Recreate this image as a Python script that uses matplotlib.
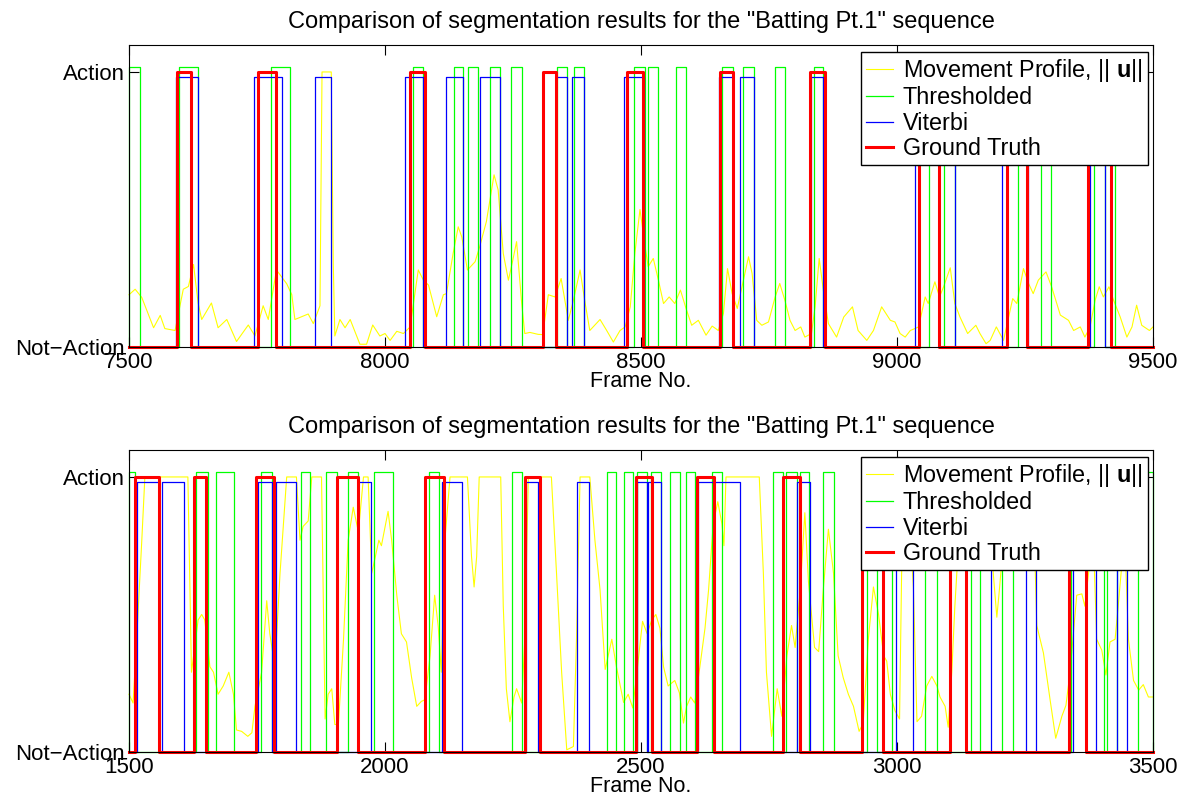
import matplotlib
matplotlib.use("Agg")
import matplotlib.pyplot as plt

plt.rcParams['font.family'] = ['Liberation Sans', 'DejaVu Sans']
plt.rcParams['mathtext.fontset'] = 'custom'
plt.rcParams['mathtext.rm'] = 'Liberation Sans'
plt.rcParams['mathtext.bf'] = 'Liberation Sans:bold'

TITLE = 'Comparison of segmentation results for the "Batting Pt.1" sequence'
XLABEL = 'Frame No.'
YTICK_LABELS = ['Not\u2212Action', 'Action']
LEGEND_LABELS = [r'Movement Profile, || $\mathbf{u}$||', 'Thresholded', 'Viterbi', 'Ground Truth']

# ---------------- Top panel (frames 7500-9500) ----------------
top_xlim = (7500, 9500)
top_xticks = [7500, 8000, 8500, 9000, 9500]

top_yellow_f = [7500, 7512, 7525, 7548, 7561, 7570, 7590, 7606, 7616, 7626, 7635, 7642, 7661, 7674,
                7691, 7710, 7733, 7746, 7762, 7772, 7788, 7808, 7818, 7824, 7850, 7860, 7873, 7877,
                7895, 7899, 7902, 7912, 7922, 7932, 7951, 7964, 7976, 7990, 8000, 8010, 8023, 8036,
                8049, 8065, 8075, 8085, 8101, 8114, 8120, 8133, 8143, 8150, 8161, 8176, 8185, 8198,
                8213, 8221, 8231, 8241, 8249, 8257, 8267, 8273, 8283, 8299, 8308, 8319, 8332, 8344,
                8358, 8368, 8381, 8390, 8400, 8420, 8433, 8446, 8459, 8469, 8479, 8488, 8498, 8508,
                8514, 8524, 8534, 8544, 8555, 8566, 8577, 8589, 8599, 8612, 8627, 8639, 8651, 8661,
                8669, 8678, 8688, 8700, 8710, 8717, 8726, 8736, 8749, 8762, 8771, 8781, 8791, 8801,
                8812, 8820, 8833, 8840, 8848, 8857, 8866, 8882, 8896, 8913, 8924, 8941, 8954, 8970,
                8987, 8996, 9006, 9016, 9026, 9035, 9042, 9048, 9055, 9061, 9074, 9083, 9091, 9104,
                9113, 9123, 9138, 9154, 9162, 9174, 9182, 9194, 9208, 9218, 9226, 9234, 9247, 9257,
                9266, 9276, 9291, 9302, 9319, 9335, 9345, 9358, 9367, 9377, 9387, 9395, 9403, 9414,
                9423, 9436, 9449, 9459, 9468, 9478, 9493, 9500]
top_yellow_v = [0.19, 0.21, 0.18, 0.07, 0.115, 0.067, 0.06, 0.21, 0.22, 0.30, 0.16, 0.10, 0.16, 0.07,
                0.10, 0.02, 0.08, 0.04, 0.15, 0.10, 0.28, 0.23, 0.19, 0.10, 0.12, 0.085, 0.15, 1.0,
                1.0, 0.30, 0.04, 0.10, 0.07, 0.10, 0.01, 0.01, 0.08, 0.04, 0.049, 0.024, 0.057, 0.049,
                0.073, 0.28, 0.243, 0.225, 0.11, 0.19, 0.194, 0.34, 0.437, 0.40, 0.28, 0.31, 0.365, 0.456,
                0.626, 0.571, 0.34, 0.243, 0.31, 0.383, 0.158, 0.049, 0.053, 0.046, 0.045, 0.19, 0.182, 0.249,
                0.097, 0.17, 0.28, 0.17, 0.06, 0.10, 0.06, 0.018, 0.06, 0.073, 0.146, 0.34, 0.50, 0.365,
                0.292, 0.322, 0.243, 0.158, 0.182, 0.158, 0.207, 0.134, 0.079, 0.097, 0.043, 0.076, 0.06, 0.122,
                0.285, 0.194, 0.140, 0.243, 0.328, 0.267, 0.097, 0.079, 0.091, 0.182, 0.231, 0.170, 0.097, 0.06,
                0.073, 0.036, 0.049, 0.146, 0.322, 0.194, 0.085, 0.036, 0.109, 0.146, 0.06, 0.024, 0.06, 0.146,
                0.097, 0.091, 0.049, 0.036, 0.06, 0.067, 0.073, 0.122, 0.182, 0.158, 0.237, 0.182, 0.219, 0.288,
                0.158, 0.109, 0.049, 0.079, 0.049, 0.012, 0.024, 0.073, 0.024, 0.109, 0.176, 0.158, 0.285, 0.231,
                0.194, 0.243, 0.273, 0.219, 0.116, 0.097, 0.06, 0.073, 0.036, 0.073, 0.170, 0.219, 0.182, 0.219,
                0.170, 0.109, 0.036, 0.073, 0.152, 0.079, 0.06, 0.073]

top_green = [(7500, 7521), (7598, 7634), (7778, 7814), (8054, 8074), (8134, 8153), (8162, 8181),
             (8205, 8224), (8247, 8267), (8335, 8355), (8370, 8389), (8487, 8507), (8514, 8534),
             (8568, 8587), (8659, 8679), (8700, 8720), (8762, 8781), (8837, 8856), (9062, 9083),
             (9092, 9113), (9237, 9253), (9281, 9301), (9385, 9406), (9417, 9426)]
top_blue = [(7592, 7635), (7744, 7798), (7863, 7895), (8040, 8074), (8119, 8153), (8186, 8224),
            (8334, 8355), (8365, 8389), (8467, 8506), (8652, 8680), (8693, 8720), (8832, 8856),
            (9036, 9113), (9206, 9256), (9377, 9406)]
top_red = [(7594, 7621), (7751, 7788), (8049, 8078), (8309, 8334), (8473, 8503), (8654, 8680),
           (8830, 8859), (9042, 9083), (9215, 9253), (9374, 9417)]

# ---------------- Bottom panel (frames 1500-3500) ----------------
bot_xlim = (1500, 3500)
bot_xticks = [1500, 2000, 2500, 3000, 3500]

bot_yellow_f = [1500, 1508, 1515, 1525, 1531, 1615, 1622, 1635, 1642, 1648, 1658, 1665, 1674, 1684,
                1695, 1704, 1710, 1720, 1732, 1740, 1746, 1759, 1769, 1775, 1785, 1795, 1808, 1827,
                1834, 1840, 1850, 1857, 1876, 1883, 1889, 1896, 1902, 1909, 1919, 1928, 1938, 1948,
                1958, 1967, 1974, 1980, 1988, 1993, 2006, 2013, 2023, 2032, 2042, 2052, 2062, 2071,
                2078, 2088, 2097, 2104, 2110, 2117, 2127, 2161, 2169, 2174, 2179, 2184, 2226, 2231,
                2237, 2244, 2252, 2257, 2267, 2273, 2280, 2325, 2335, 2345, 2355, 2368, 2374, 2381,
                2400, 2410, 2420, 2430, 2443, 2452, 2466, 2475, 2484, 2492, 2503, 2512, 2521, 2529,
                2537, 2544, 2553, 2566, 2575, 2583, 2589, 2597, 2605, 2615, 2625, 2632, 2641, 2650,
                2658, 2662, 2666, 2731, 2739, 2745, 2755, 2766, 2775, 2785, 2794, 2801, 2811, 2820,
                2827, 2839, 2847, 2856, 2866, 2876, 2885, 2895, 2905, 2915, 2926, 2934, 2944, 2954,
                2964, 2974, 2980, 2987, 2996, 3005, 3009, 3014, 3022, 3032, 3039, 3048, 3058, 3068,
                3078, 3084, 3094, 3100, 3107, 3113, 3120, 3127, 3180, 3188, 3195, 3200, 3205, 3212,
                3265, 3273, 3286, 3299, 3310, 3322, 3330, 3338, 3351, 3361, 3367, 3377, 3384, 3390,
                3400, 3408, 3416, 3426, 3432, 3440, 3446, 3452, 3462, 3472, 3481, 3491, 3500]
bot_yellow_v = [0.21, 0.178, 0.41, 0.77, 1.0, 1.0, 0.29, 0.48, 0.50, 0.48, 0.31, 0.29, 0.21, 0.24,
                0.29, 0.21, 0.08, 0.075, 0.057, 0.07, 0.166, 0.29, 0.55, 0.43, 0.31, 0.65, 1.0, 1.0,
                0.77, 0.82, 0.84, 1.0, 1.0, 0.12, 0.21, 0.23, 0.10, 0.10, 0.41, 0.77, 0.89, 0.80,
                1.0, 1.0, 0.65, 0.70, 0.77, 0.75, 0.875, 0.77, 0.57, 0.43, 0.40, 0.27, 0.166, 0.184,
                0.19, 0.35, 0.57, 0.455, 0.29, 0.77, 1.0, 1.0, 0.71, 0.60, 0.71, 1.0, 1.0, 0.53,
                0.23, 0.11, 0.20, 0.23, 0.178, 0.41, 1.0, 1.0, 0.65, 0.29, 0.008, 0.02, 0.41, 1.0,
                1.0, 0.77, 0.59, 0.30, 0.41, 0.31, 0.18, 0.21, 0.16, 0.29, 0.475, 0.43, 0.48, 0.50,
                0.45, 0.31, 0.24, 0.26, 0.215, 0.105, 0.166, 0.20, 0.178, 0.31, 0.45, 0.59, 0.83, 0.91,
                0.83, 0.75, 1.0, 1.0, 0.65, 0.29, 0.057, 0.23, 0.13, 0.35, 0.46, 0.38, 0.59, 0.87,
                0.62, 0.38, 0.365, 0.59, 0.81, 0.65, 0.35, 0.27, 0.21, 0.166, 0.075, 0.105, 0.41, 0.60,
                0.50, 0.35, 0.33, 0.21, 0.15, 0.12, 0.65, 0.90, 0.90, 0.60, 0.11, 0.13, 0.24, 0.275,
                0.24, 0.20, 0.166, 0.09, 0.29, 0.53, 0.75, 1.0, 1.0, 0.65, 0.49, 0.59, 0.70, 1.0,
                1.0, 0.46, 0.36, 0.19, 0.05, 0.13, 0.17, 0.29, 0.57, 0.575, 0.53, 0.70, 0.75, 0.41,
                0.37, 0.28, 0.40, 0.41, 0.53, 0.70, 0.72, 0.41, 0.26, 0.225, 0.245, 0.20, 0.20]

bot_green = [(1500, 1512), (1631, 1655), (1670, 1706), (1758, 1779), (1835, 1854), (1885, 1906),
             (1928, 1948), (1978, 2015), (2086, 2106), (2248, 2267), (2433, 2452), (2466, 2485),
             (2493, 2512), (2520, 2539), (2557, 2577), (2587, 2606), (2639, 2659), (2758, 2777),
             (2784, 2804), (2811, 2829), (2856, 2876), (2941, 2960), (2972, 2991), (3055, 3079),
             (3144, 3162), (3206, 3226), (3340, 3404), (3411, 3429), (3470, 3500)]
bot_blue = [(1516, 1559), (1564, 1607), (1751, 1779), (1788, 1827), (1948, 1972), (2112, 2150),
            (2275, 2299), (2375, 2398), (2493, 2512), (2513, 2539), (2611, 2693), (2805, 2830),
            (2972, 2999), (3031, 3184), (3251, 3271), (3344, 3388), (3429, 3450)]
bot_red = [(1512, 1559), (1627, 1650), (1748, 1783), (1906, 1948), (2078, 2116), (2273, 2303),
           (2490, 2521), (2609, 2643), (2777, 2811), (2932, 2972), (3103, 3135), (3335, 3370)]

GREEN_LEVEL = 1.018
BLUE_LEVEL = 0.982


def steps(pulses, level, x0, x1):
    xs, ys = [x0], [0.0]
    for s, e in pulses:
        xs += [s, s, e, e]
        ys += [0.0, level, level, 0.0]
    xs.append(x1)
    ys.append(0.0)
    return xs, ys


def panel(ax, xlim, xticks, yf, yv, green, blue, red):
    ax.plot(yf, yv, color='#ffff00', lw=0.8, clip_on=False, label=LEGEND_LABELS[0])
    gx, gy = steps(green, GREEN_LEVEL, *xlim)
    ax.plot(gx, gy, color='#00ff00', lw=0.9, clip_on=False, label=LEGEND_LABELS[1])
    bx, by = steps(blue, BLUE_LEVEL, *xlim)
    ax.plot(bx, by, color='#0000ff', lw=0.9, clip_on=False, label=LEGEND_LABELS[2])
    rx, ry = steps(red, 1.0, *xlim)
    ax.plot(rx, ry, color='#ff0000', lw=2.2, clip_on=False, label=LEGEND_LABELS[3])
    ax.set_xlim(*xlim)
    ax.set_ylim(0, 1.098)
    ax.set_xticks(xticks)
    ax.set_xticklabels([str(t) for t in xticks])
    ax.set_yticks([0, 1])
    ax.set_yticklabels(YTICK_LABELS)
    ax.tick_params(direction='in', length=7, width=0.8, top=True, right=True,
                   labelsize=16, pad=3)
    ax.tick_params(axis='x', pad=3.5)
    for sp in ax.spines.values():
        sp.set_linewidth(0.8)
    ax.set_title(TITLE, fontsize=17, pad=12)
    ax.set_xlabel(XLABEL, fontsize=15.5, labelpad=-1)
    leg = ax.legend(loc='upper right', bbox_to_anchor=(0.9951, 0.9768), borderaxespad=0,
                    fontsize=16.8, fancybox=False, framealpha=1, edgecolor='black',
                    handlelength=1.16, handletextpad=0.43, borderpad=0.22, labelspacing=0.1)
    leg.get_frame().set_linewidth(1.0)


fig = plt.figure(figsize=(11.9, 8.05), dpi=100)
ax1 = fig.add_axes([129 / 1190, 1 - 347 / 805, 1024 / 1190, 302 / 805])
ax2 = fig.add_axes([129 / 1190, 1 - 752 / 805, 1024 / 1190, 302 / 805])

panel(ax1, top_xlim, top_xticks, top_yellow_f, top_yellow_v, top_green, top_blue, top_red)
panel(ax2, bot_xlim, bot_xticks, bot_yellow_f, bot_yellow_v, bot_green, bot_blue, bot_red)

fig.savefig('out.png', dpi=100)
